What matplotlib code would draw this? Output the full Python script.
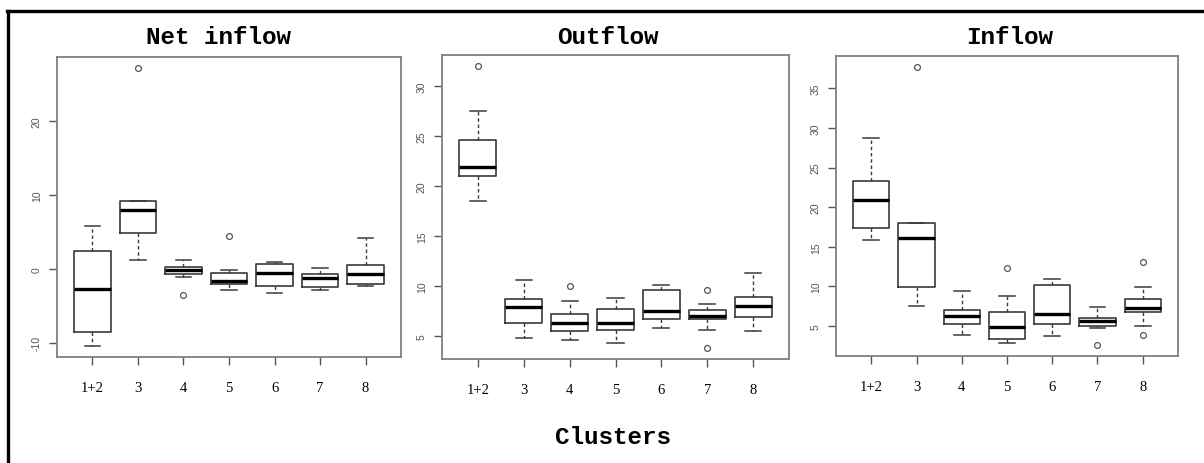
"""Three boxplot panels of flow per cluster, R-style."""

import matplotlib

matplotlib.use("Agg")
import matplotlib.pyplot as plt
from matplotlib.lines import Line2D

W, H = 1204, 464

clusters = ["1+2", "3", "4", "5", "6", "7", "8"]

# Net inflow
net_med = [-2.7, 8.0, -0.2, -1.7, -0.5, -1.2, -0.7]
net_q1 = [-8.5, 4.8, -0.7, -2.0, -2.3, -2.5, -2.1]
net_q3 = [2.4, 9.2, 0.3, -0.6, 0.6, -0.7, 0.5]
net_lo = [-10.4, 1.2, -1.1, -2.9, -3.3, -2.8, -2.3]
net_hi = [5.8, 9.2, 1.2, -0.1, 0.9, 0.1, 4.1]
net_out = [[], [27.1], [-3.5], [4.5], [], [], []]

# Outflow
out_med = [21.9, 7.9, 6.3, 6.3, 7.5, 7.0, 8.0]
out_q1 = [21.0, 6.3, 5.5, 5.6, 6.7, 6.7, 6.9]
out_q3 = [24.6, 8.7, 7.2, 7.7, 9.6, 7.6, 8.9]
out_lo = [18.5, 4.8, 4.6, 4.3, 5.8, 5.6, 5.5]
out_hi = [27.5, 10.6, 8.5, 8.8, 10.1, 8.2, 11.3]
out_out = [[32.0], [], [10.0], [], [], [9.6, 3.8], []]

# Inflow
in_med = [20.9, 16.1, 6.3, 4.8, 6.5, 5.6, 7.3]
in_q1 = [17.4, 9.9, 5.3, 3.4, 5.3, 5.0, 6.8]
in_q3 = [23.3, 18.0, 7.0, 6.8, 10.2, 6.0, 8.4]
in_lo = [15.9, 7.5, 3.9, 2.9, 3.7, 4.7, 5.0]
in_hi = [28.7, 18.0, 9.4, 8.8, 10.9, 7.4, 9.9]
in_out = [[], [37.7], [], [12.3], [], [2.6], [13.1, 3.9]]

panels = [
    ("Net inflow", net_med, net_q1, net_q3, net_lo, net_hi, net_out, [-10, 0, 10, 20]),
    ("Outflow", out_med, out_q1, out_q3, out_lo, out_hi, out_out, [5, 10, 15, 20, 25, 30]),
    ("Inflow", in_med, in_q1, in_q3, in_lo, in_hi, in_out, [5, 10, 15, 20, 25, 30, 35]),
]

# axes boxes in pixels: left, top, right, bottom
boxes_px = [(57, 58, 401, 358), (442, 56, 789, 360), (836, 57, 1178, 357)]
title_x = [218, 608, 1010]

FRAME = "#808080"
LINE = "#3a3a3a"
MONO = "Liberation Mono"

fig = plt.figure(figsize=(W / 100, H / 100), dpi=100)
fig.patch.set_facecolor("white")

# partial outer frame (top and left)
fig.add_artist(Line2D([7 / W, 1], [1 - 12 / H, 1 - 12 / H], color="black", lw=2.4))
fig.add_artist(Line2D([7.5 / W, 7.5 / W], [0, 1 - 12 / H], color="black", lw=2.4))

for (title, med, q1, q3, lo, hi, out, yt), (l, t, r, b), tx in zip(panels, boxes_px, title_x):
    ax = fig.add_axes([l / W, 1 - b / H, (r - l) / W, (b - t) / H])
    stats = []
    for i in range(len(clusters)):
        stats.append(dict(med=med[i], q1=q1[i], q3=q3[i], whislo=lo[i], whishi=hi[i],
                          fliers=out[i], label=clusters[i]))
    ax.bxp(
        stats,
        positions=range(1, len(clusters) + 1),
        widths=0.8,
        showfliers=True,
        boxprops=dict(color=LINE, lw=1.2),
        medianprops=dict(color="black", lw=2.4, solid_capstyle="butt"),
        whiskerprops=dict(color=LINE, lw=1.0, ls=(0, (2.5, 2.0))),
        capprops=dict(color=LINE, lw=1.1),
        capwidths=0.35,
        flierprops=dict(marker="o", markersize=4.2, markerfacecolor="none",
                        markeredgecolor="#555555", markeredgewidth=0.9),
    )
    allv = lo + hi + [v for o in out for v in o]
    lo_v, hi_v = min(allv), max(allv)
    pad = 0.04 * (hi_v - lo_v)
    ax.set_ylim(lo_v - pad, hi_v + pad)
    ax.set_xlim(0.5 - 0.28, len(clusters) + 0.5 + 0.28)

    for s in ax.spines.values():
        s.set_color(FRAME)
        s.set_linewidth(1.3)
    ax.set_yticks(yt)
    ax.set_yticklabels([str(v) for v in yt], rotation=90, va="center",
                       fontsize=7.5, color="#555555", family="Liberation Sans")
    ax.set_xticks(range(1, len(clusters) + 1))
    ax.set_xticklabels(clusters, fontsize=10.5, family="Liberation Serif", color="black")
    ax.tick_params(axis="y", length=6, width=1.0, color="#555555", pad=5)
    ax.tick_params(axis="x", length=6, width=1.0, color="#555555", pad=11)

    fig.text(tx / W, 1 - 37 / H, title, ha="center", va="center",
             fontsize=17.5, fontweight="bold", family=MONO)

fig.text(613 / W, 1 - 438 / H, "Clusters", ha="center", va="center",
         fontsize=17.5, fontweight="bold", family=MONO)

fig.savefig("out.png", dpi=100, facecolor="white")
plt.close(fig)
